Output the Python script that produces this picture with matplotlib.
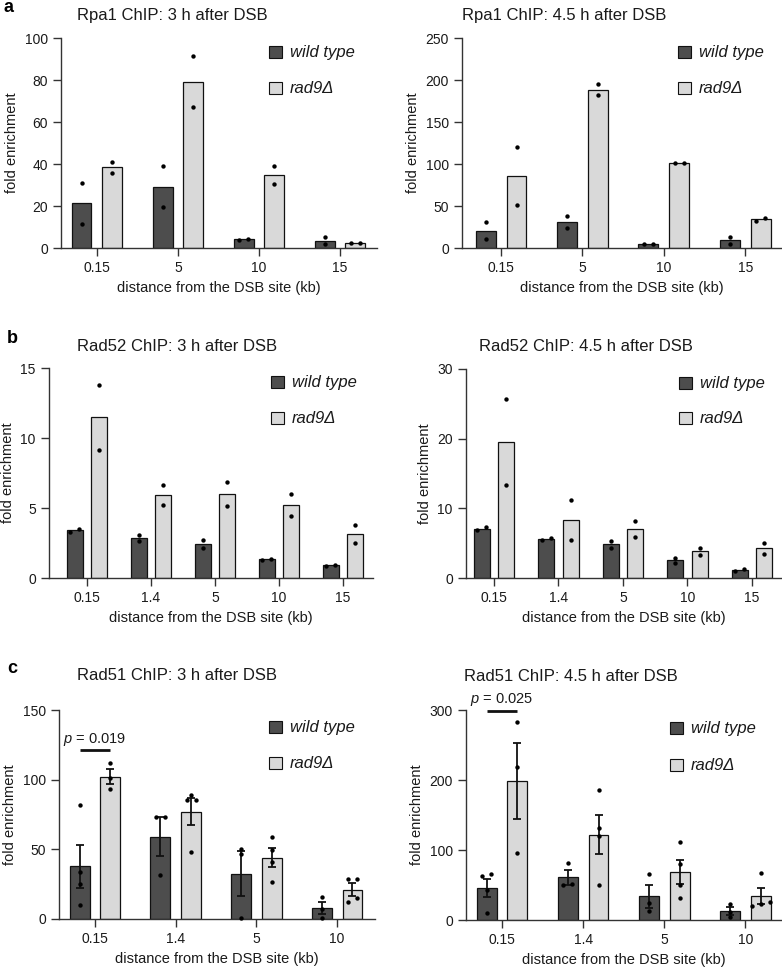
import numpy as np
import matplotlib
matplotlib.use("Agg")
import matplotlib.pyplot as plt
from matplotlib.patches import Rectangle

plt.rcParams['font.family'] = ['Liberation Sans', 'DejaVu Sans']
plt.rcParams['mathtext.fontset'] = 'custom'
plt.rcParams['mathtext.it'] = 'Liberation Sans:italic'
plt.rcParams['mathtext.rm'] = 'Liberation Sans'

# ---- data ----
# a: Rpa1 ChIP
rpa1_cats = ["0.15", "5", "10", "15"]
rpa1_3h_wt = [[30.9, 11.5], [38.9, 19.3], [3.8, 4.3], [5.1, 2.0]]
rpa1_3h_rad9 = [[40.9, 35.8], [91.4, 67.0], [38.9, 30.7], [2.2, 2.2]]
rpa1_45h_wt = [[31.0, 10.3], [38.6, 24.3], [4.8, 5.2], [13.1, 4.8]]
rpa1_45h_rad9 = [[120.6, 51.0], [194.7, 182.0], [101.5, 101.5], [32.6, 35.8]]

# b: Rad52 ChIP
rad52_cats = ["0.15", "1.4", "5", "10", "15"]
rad52_3h_wt = [[3.27, 3.53], [3.06, 2.67], [2.72, 2.13], [1.31, 1.34], [0.86, 0.93]]
rad52_3h_rad9 = [[13.76, 9.17], [6.62, 5.23], [6.88, 5.11], [6.02, 4.42], [3.77, 2.48]]
rad52_45h_wt = [[6.84, 7.37], [5.45, 5.79], [5.31, 4.35], [2.92, 2.15], [0.96, 1.29]]
rad52_45h_rad9 = [[25.7, 13.3], [11.24, 5.4], [8.18, 5.88], [4.35, 3.3], [5.02, 3.49]]

# c: Rad51 ChIP
rad51_cats = ["0.15", "1.4", "5", "10"]
rad51_3h_wt = [[81.8, 34.0, 25.1, 10.0], [73.0, 73.0, 31.6], [50.5, 46.5, 0.5], [16.0, 7.0, 0.5]]
rad51_3h_rad9 = [[111.7, 101.0, 93.3], [89.3, 85.7, 85.7, 47.8], [58.6, 49.5, 41.1, 26.3],
                 [28.7, 28.7, 12.0, 14.8]]
rad51_45h_wt = [[63.3, 65.7, 42.9, 10.5], [81.0, 50.0, 51.4], [65.2, 23.8, 12.4], [22.5, 11.0, 4.5]]
rad51_45h_rad9 = [[282.4, 218.1, 95.2], [185.2, 131.4, 120.5, 50.0], [111.0, 80.5, 50.0, 31.4],
                  [67.6, 20.5, 23.3, 26.2]]

p_3h = "0.019"
p_45h = "0.025"

WT_COLOR = "#4d4d4d"
RAD9_COLOR = "#d9d9d9"
EDGE = "#111111"
AXC = "#333333"

W, H = 782, 968
fig = plt.figure(figsize=(W / 100, H / 100), dpi=100)


def add_ax(x0, x1, ytop, ybot):
    return fig.add_axes([x0 / W, 1 - ybot / H, (x1 - x0) / W, (ybot - ytop) / H])


def swarm_offsets(vals, px_per_y, px_per_x, gap_px=4.0, spacing_px=9.0):
    # points closer than gap_px (vertically) are put side by side
    order = np.argsort(vals)
    v = np.asarray(vals)[order]
    rows = [[order[0]]]
    for k in range(1, len(v)):
        if (v[k] - v[k - 1]) * px_per_y < gap_px:
            rows[-1].append(order[k])
        else:
            rows.append([order[k]])
    off = np.zeros(len(vals))
    for row in rows:
        m = len(row)
        for i, idx in enumerate(row):
            off[idx] = (i - (m - 1) / 2) * spacing_px / px_per_x
    return off


def draw_panel(ax, cats, wt, rad9, ymax, ystep, xlim, box, sem=False):
    ax.set_xlim(*xlim)
    ax.set_ylim(0, ymax)
    x = np.arange(len(cats))
    bw, off = 0.245, 0.19
    px_per_y = (box[3] - box[2]) / ymax
    px_per_x = (box[1] - box[0]) / (xlim[1] - xlim[0])
    for grp, sign, color in ((wt, -1, WT_COLOR), (rad9, 1, RAD9_COLOR)):
        means = [np.mean(g) for g in grp]
        xs = x + sign * off
        ax.bar(xs, means, width=bw, color=color, edgecolor=EDGE, linewidth=0.9, zorder=2)
        if sem:
            sems = [np.std(g, ddof=1) / np.sqrt(len(g)) for g in grp]
            ax.errorbar(xs, means, yerr=sems, fmt='none', ecolor=EDGE, elinewidth=1.3,
                        capsize=3.2, capthick=1.3, zorder=3)
        for xi, g in zip(xs, grp):
            dx = swarm_offsets(g, px_per_y, px_per_x)
            ax.scatter(xi + dx, g, s=10, color='black', zorder=4, linewidths=0, clip_on=False)
    ax.set_xticks(x)
    ax.set_xticklabels(cats)
    ax.set_yticks(np.arange(0, ymax + ystep / 2, ystep))
    for s in ('top', 'right'):
        ax.spines[s].set_visible(False)
    for s in ('left', 'bottom'):
        ax.spines[s].set_color(AXC)
        ax.spines[s].set_linewidth(1.0)
    ax.tick_params(length=6, width=1.0, color=AXC, labelsize=10, labelcolor='#1a1a1a')
    ax.set_xlabel("distance from the DSB site (kb)", fontsize=10.5, color='#1a1a1a')
    ax.set_ylabel("fold enrichment", fontsize=10.5, color='#1a1a1a')


def legend(xl, ytop1, ytop2):
    for yt, lab, col in ((ytop1, "wild type", WT_COLOR), (ytop2, "rad9\u0394", RAD9_COLOR)):
        fig.add_artist(Rectangle((xl / W, 1 - (yt + 12) / H), 13 / W, 12 / H,
                                 transform=fig.transFigure, facecolor=col,
                                 edgecolor=EDGE, linewidth=0.8))
        fig.text((xl + 21) / W, 1 - (yt + 6.5) / H, lab, fontsize=12, style='italic',
                 va='center', ha='left', color='#1a1a1a')


def ftext(x, y, s, **kw):
    fig.text(x / W, 1 - y / H, s, **kw)


# panel a
box = (61, 377, 38, 248)
ax = add_ax(*box)
draw_panel(ax, rpa1_cats, rpa1_3h_wt, rpa1_3h_rad9, 100, 20, (-0.444, 3.457), box)
legend(269, 46, 82)
box = (462, 781, 38, 248)
ax = add_ax(*box)
draw_panel(ax, rpa1_cats, rpa1_45h_wt, rpa1_45h_rad9, 250, 50, (-0.48, 3.44), box)
legend(678, 46, 82)

# panel b
box = (49, 373, 368, 578)
ax = add_ax(*box)
draw_panel(ax, rad52_cats, rad52_3h_wt, rad52_3h_rad9, 15, 5, (-0.594, 4.47), box)
legend(271, 376, 412)
box = (466, 781, 369, 578)
ax = add_ax(*box)
draw_panel(ax, rad52_cats, rad52_45h_wt, rad52_45h_rad9, 30, 10, (-0.434, 4.45), box)
legend(679, 377, 412)

# panel c
box = (59, 375, 710, 919)
ax = add_ax(*box)
draw_panel(ax, rad51_cats, rad51_3h_wt, rad51_3h_rad9, 150, 50, (-0.446, 3.47), box, sem=True)
legend(269, 721, 757)
ax.plot([-0.19, 0.19], [121, 121], color='#111111', lw=2, clip_on=False, solid_capstyle='butt')
ax.text(0, 123, "$p$ = " + p_3h, ha='center', va='bottom', fontsize=10.5, color='#1a1a1a')

box = (466, 781, 710, 920)
ax = add_ax(*box)
draw_panel(ax, rad51_cats, rad51_45h_wt, rad51_45h_rad9, 300, 100, (-0.444, 3.44), box, sem=True)
legend(670, 722, 759)
ax.plot([-0.19, 0.19], [299, 299], color='#111111', lw=2, clip_on=False, solid_capstyle='butt')
ax.text(0, 303, "$p$ = " + p_45h, ha='center', va='bottom', fontsize=10.5, color='#1a1a1a',
        clip_on=False)

# titles and panel letters
ftext(77, 20, "Rpa1 ChIP: 3 h after DSB", fontsize=12, va='baseline', color='#1a1a1a')
ftext(462, 20, "Rpa1 ChIP: 4.5 h after DSB", fontsize=12, va='baseline', color='#1a1a1a')
ftext(77, 351, "Rad52 ChIP: 3 h after DSB", fontsize=12, va='baseline', color='#1a1a1a')
ftext(479, 351, "Rad52 ChIP: 4.5 h after DSB", fontsize=12, va='baseline', color='#1a1a1a')
ftext(77, 680, "Rad51 ChIP: 3 h after DSB", fontsize=12, va='baseline', color='#1a1a1a')
ftext(464, 681, "Rad51 ChIP: 4.5 h after DSB", fontsize=12, va='baseline', color='#1a1a1a')

ftext(3, 12, "a", fontsize=13, fontweight='bold', va='baseline')
ftext(7, 343, "b", fontsize=13, fontweight='bold', va='baseline')
ftext(7, 673, "c", fontsize=13, fontweight='bold', va='baseline')

fig.savefig("out.png", dpi=100)
